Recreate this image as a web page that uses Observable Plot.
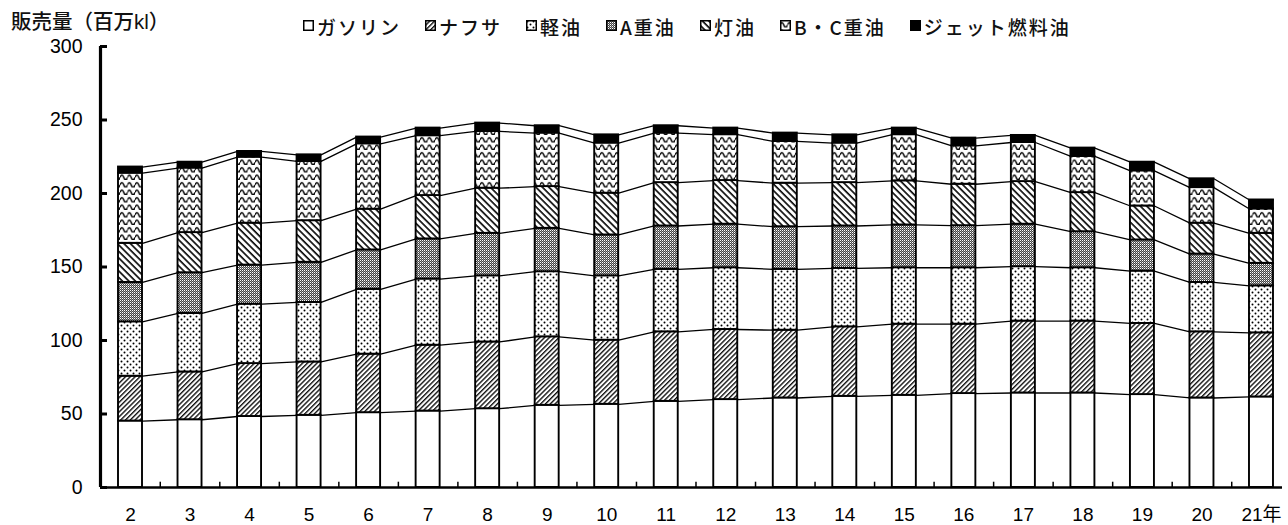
<!DOCTYPE html>
<html><head><meta charset="utf-8">
<script src="https://cdn.jsdelivr.net/npm/d3@7"></script>
<script src="https://cdn.jsdelivr.net/npm/@observablehq/plot@0.6"></script>
<style>
body{margin:0;background:#fff;width:1288px;height:525px;overflow:hidden;font-family:"Noto Sans CJK JP",sans-serif;color:#111;}
#header{position:relative;height:30px;}
#ytitle{position:absolute;left:11px;top:11px;font-family:"Liberation Sans","Noto Sans CJK JP",sans-serif;font-size:20.5px;line-height:22px;font-weight:500;white-space:nowrap;}
#legend{position:absolute;left:303px;top:17px;display:flex;gap:24px;font-size:19px;line-height:20px;letter-spacing:2px;font-weight:500;white-space:nowrap;}
.item{display:flex;align-items:center;}
.item svg{margin-right:3px;margin-top:-3px;}
#chart svg{display:block;}
</style></head>
<body>
<svg width="0" height="0" style="position:absolute">
<defs>
<pattern id="p-gas" patternUnits="userSpaceOnUse" width="4" height="4"><rect width="4" height="4" fill="white"/></pattern>
<pattern id="p-naph" patternUnits="userSpaceOnUse" width="3.4" height="3.4" patternTransform="rotate(45)">
<rect width="3.4" height="3.4" fill="white"/><line x1="0.7" y1="0" x2="0.7" y2="3.4" stroke="black" stroke-width="1.3"/></pattern>
<pattern id="p-kei" patternUnits="userSpaceOnUse" width="6" height="6">
<rect width="6" height="6" fill="white"/><circle cx="1.5" cy="1.5" r="1" fill="black"/><circle cx="4.5" cy="4.5" r="1" fill="black"/></pattern>
<pattern id="p-a" patternUnits="userSpaceOnUse" width="2" height="2">
<rect width="2" height="2" fill="#444444"/><rect width="1" height="1" fill="#ffffff"/><rect x="1" y="1" width="1" height="1" fill="#999999"/></pattern>
<pattern id="p-ker" patternUnits="userSpaceOnUse" width="4.6" height="4.6" patternTransform="rotate(-45)">
<rect width="4.6" height="4.6" fill="white"/><line x1="1" y1="0" x2="1" y2="4.6" stroke="black" stroke-width="1.6"/></pattern>
<pattern id="p-bc" patternUnits="userSpaceOnUse" width="7.5" height="7.5">
<rect width="7.5" height="7.5" fill="white"/><path d="M0,5 Q1.875,0.2 3.75,5 T7.5,5" fill="none" stroke="black" stroke-width="1.5"/></pattern>
<pattern id="p-jet" patternUnits="userSpaceOnUse" width="4" height="4"><rect width="4" height="4" fill="black"/></pattern>
</defs>
</svg>
<div id="header"><div id="ytitle">販売量（百万kl）</div><div id="legend"></div></div>
<div id="chart"></div>
<script>
// ---- data (百万kl) ----
const years = [2,3,4,5,6,7,8,9,10,11,12,13,14,15,16,17,18,19,20,21];
const yearLabels = ["2","3","4","5","6","7","8","9","10","11","12","13","14","15","16","17","18","19","20","21年"];
const categories = ["ガソリン","ナフサ","軽油","A重油","灯油","B・C重油","ジェット燃料油"];
const gasoline = [45.2,46.1,48.3,49.1,50.9,52.0,53.6,55.9,56.6,58.6,59.8,60.9,62.0,62.7,63.9,64.3,64.3,63.2,60.9,61.6];
const naphtha  = [30.5,32.5,36.0,36.3,39.8,44.8,45.4,46.6,43.6,47.3,47.7,46.1,47.3,48.4,47.2,48.9,48.9,48.4,45.0,43.6];
const gasoil   = [37.0,39.8,40.4,40.5,44.1,45.0,45.0,44.3,43.8,42.5,42.0,41.4,39.8,38.4,38.4,37.0,36.3,35.6,33.6,32.0];
const fuelA    = [26.8,27.7,26.6,27.3,26.8,27.3,28.9,29.5,27.8,29.5,29.6,29.0,28.8,29.1,28.6,28.9,24.5,21.2,19.3,15.3];
const kerosene = [26.6,27.3,28.5,28.3,27.7,29.5,30.7,28.4,28.4,29.5,29.7,29.6,29.5,30.0,28.2,29.0,26.6,23.1,21.0,20.4];
const fuelBC   = [47.7,43.9,44.9,40.3,44.5,40.7,38.6,36.4,34.1,33.7,31.2,28.4,26.9,31.4,26.1,26.6,24.6,23.9,24.2,16.6];
const jetFuel  = [4.2,4.0,3.9,4.5,4.6,5.2,5.7,5.0,5.6,5.0,4.5,5.7,5.6,4.5,5.3,4.8,5.7,5.9,6.0,6.1];
const yTicks = [0,50,100,150,200,250,300];

// ---- build ----
const series = [gasoline, naphtha, gasoil, fuelA, kerosene, fuelBC, jetFuel];
const fills = ["url(#p-gas)","url(#p-naph)","url(#p-kei)","url(#p-a)","url(#p-ker)","url(#p-bc)","url(#p-jet)"];
const xDomain = [1.496, 21.353];
const pxPerUnit = 1182 / (xDomain[1] - xDomain[0]);
const hw = 12 / pxPerUnit;
const rows = [];
const linePts = [];
years.forEach((yr, i) => {
  let base = 0;
  series.forEach((vals, k) => {
    const top = base + vals[i];
    rows.push({year: yr, cat: k, y1: base, y2: top});
    linePts.push({x: yr - hw, y: top, k}, {x: yr + hw, y: top, k});
    base = top;
  });
});
const mids = years.slice(0, -1).map(y => y + 0.5);
const numFont = "'Liberation Sans', Arial, 'Noto Sans CJK JP', sans-serif";

// legend
const legend = document.getElementById("legend");
categories.forEach((c, k) => {
  const it = document.createElement("div");
  it.className = "item";
  it.innerHTML = `<svg width="11" height="11"><rect x="0.75" y="0.75" width="9.5" height="9.5" fill="${fills[k]}" stroke="black" stroke-width="1.5"/></svg><span>${c}</span>`;
  legend.appendChild(it);
});

const chart = Plot.plot({
  width: 1288,
  height: 495,
  marginLeft: 100,
  marginRight: 6,
  marginTop: 16,
  marginBottom: 38,
  style: {fontFamily: numFont, background: "white", color: "black"},
  x: {type: "linear", domain: xDomain, axis: null},
  y: {domain: [0, 300], axis: null},
  color: {type: "identity"},
  marks: [
    Plot.line(linePts, {x: "x", y: "y", z: "k", stroke: "black", strokeWidth: 1.3}),
    Plot.rect(rows, {x1: d => d.year - hw, x2: d => d.year + hw, y1: "y1", y2: "y2", fill: d => fills[d.cat], stroke: "black", strokeWidth: 1.9}),
    Plot.ruleY([0], {stroke: "black", strokeWidth: 2.4}),
    Plot.ruleX([xDomain[0]], {y1: 0, y2: 300, stroke: "black", strokeWidth: 3.2}),
    Plot.ruleY(yTicks, {x1: xDomain[0], x2: xDomain[0] + 7 / pxPerUnit, stroke: "black", strokeWidth: 3}),
    Plot.ruleX(mids, {y1: 0, y2: 3.6, stroke: "black", strokeWidth: 1.5}),
    Plot.axisY({ticks: yTicks, tickSize: 0, tickPadding: 18, fontSize: 19.5, label: null, fill: "black"}),
    Plot.axisX({ticks: years, tickSize: 0, tickPadding: 20, fontSize: 19, label: null, fill: "black",
      tickFormat: y => yearLabels[years.indexOf(y)]})
  ]
});
document.getElementById("chart").appendChild(chart);
</script>
</body></html>
